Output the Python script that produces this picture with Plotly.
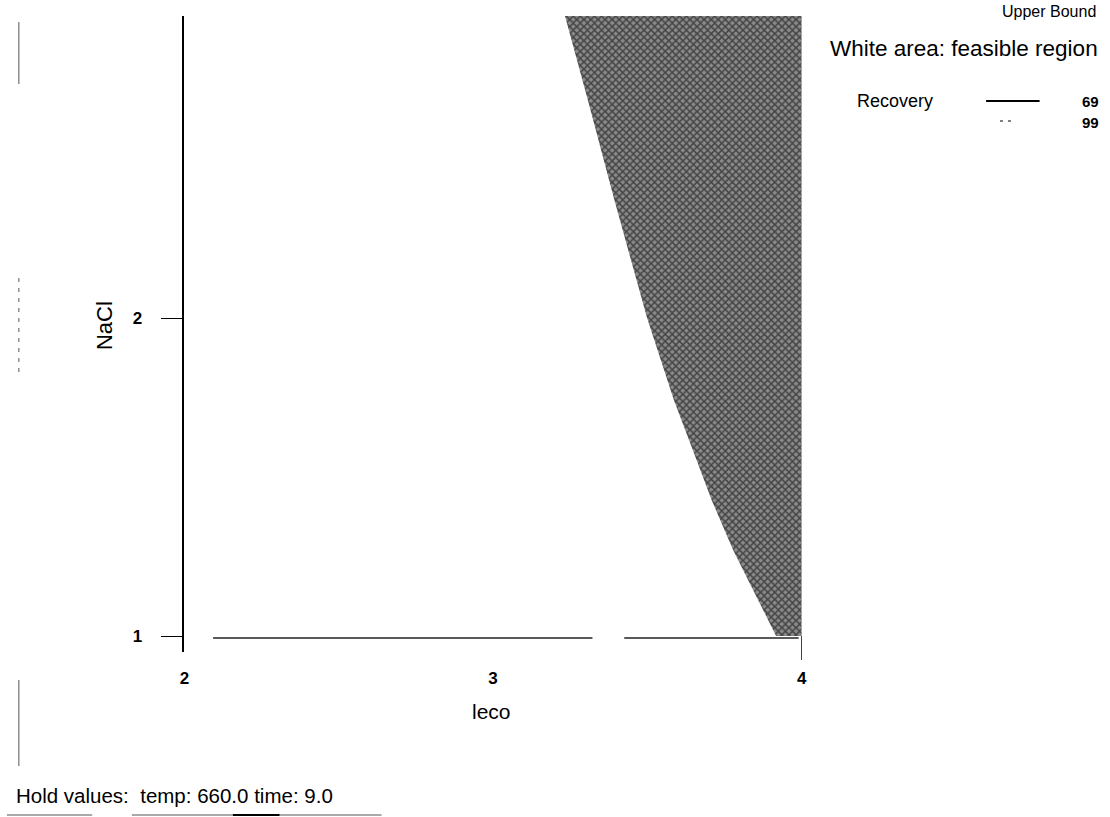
import plotly.graph_objects as go

# ---- data ----
# infeasible-region boundary (leco, NaCl)
bound_leco = [3.233, 3.307, 3.393, 3.499, 3.586, 3.647, 3.708, 3.778, 3.859, 3.917]
bound_nacl = [2.950, 2.686, 2.371, 2.000, 1.742, 1.585, 1.428, 1.270, 1.113, 1.000]
x_max = 4.0
# Recovery = 69 contour segments
rec69_leco = [2.093, 3.322, None, 3.425, 3.99]
rec69_nacl = [0.994, 0.994, None, 0.994, 0.994]
x_ticks = [2, 3, 4]
y_ticks = [1, 2]
legend_levels = ["69", "99"]

W, H = 1110, 817
FONT = "Liberation Sans, Arial, sans-serif"


def px(x):
    return x / W


def py(y):
    return 1 - y / H


fig = go.Figure()

poly_x = bound_leco + [x_max, x_max]
poly_y = bound_nacl + [bound_nacl[-1], bound_nacl[0]]
fig.add_trace(go.Scatter(
    x=poly_x, y=poly_y, mode="none", fill="toself",
    fillcolor="#777777",
    fillpattern=dict(shape="x", fgcolor="#000000", bgcolor="#8a8a8a", size=5, solidity=0.5),
    hoverinfo="skip", showlegend=False,
))
fig.add_trace(go.Scatter(
    x=rec69_leco, y=rec69_nacl, mode="lines",
    line=dict(color="#222222", width=1.6),
    showlegend=False, hoverinfo="skip",
))

tickfont = dict(size=17, family=FONT, color="black", weight="bold")
fig.update_layout(
    width=W, height=H,
    margin=dict(l=0, r=0, t=0, b=0),
    paper_bgcolor="white", plot_bgcolor="white",
    font=dict(family=FONT, color="black"),
    showlegend=False,
    xaxis=dict(
        domain=[181 / W, 804 / W], range=[2, 4],
        showgrid=False, zeroline=False, showline=False,
        tickvals=x_ticks, ticktext=[str(v) for v in x_ticks],
        ticks="", ticklabelstandoff=14,
        tickfont=tickfont,
    ),
    yaxis=dict(
        domain=[(H - 652) / H, (H - 16) / H], range=[0.95, 2.95],
        showgrid=False, zeroline=False,
        showline=True, linecolor="black", linewidth=1.6,
        tickvals=y_ticks, ticktext=[str(v) for v in y_ticks],
        ticks="outside", ticklen=22, tickwidth=1, tickcolor="black",
        ticklabelstandoff=15,
        tickfont=tickfont,
    ),
)

# tick at x = 4 below the axis
fig.add_shape(type="line", xref="x", yref="paper", x0=4, x1=4,
              y0=py(660), y1=py(636), line=dict(color="black", width=1.5))

ann = []
ann.append(dict(text="leco", x=px(491), y=py(711), xref="paper", yref="paper",
                showarrow=False, font=dict(size=21, family=FONT), xanchor="center", yanchor="middle"))
ann.append(dict(text="NaCl", x=px(100), y=py(326), xref="paper", yref="paper", textangle=-90,
                showarrow=False, font=dict(size=22, family=FONT), xanchor="center", yanchor="middle"))
ann.append(dict(text="Upper Bound", x=px(1103), y=py(11), xref="paper", yref="paper",
                showarrow=False, font=dict(size=16, family=FONT), xanchor="right", yanchor="middle"))
ann.append(dict(text="White area: feasible region", x=px(1105), y=py(48), xref="paper", yref="paper",
                showarrow=False, font=dict(size=22.5, family=FONT), xanchor="right", yanchor="middle"))
ann.append(dict(text="Recovery", x=px(858), y=py(101), xref="paper", yref="paper",
                showarrow=False, font=dict(size=18, family=FONT), xanchor="left", yanchor="middle"))
ann.append(dict(text=legend_levels[0], x=px(1106), y=py(102), xref="paper", yref="paper",
                showarrow=False, font=dict(size=15, family=FONT, weight="bold"), xanchor="right", yanchor="middle"))
ann.append(dict(text=legend_levels[1], x=px(1106), y=py(122), xref="paper", yref="paper",
                showarrow=False, font=dict(size=15, family=FONT, weight="bold"), xanchor="right", yanchor="middle"))
ann.append(dict(text="Hold values:\u00a0 temp: 660.0 time: 9.0", x=px(9), y=py(795), xref="paper", yref="paper",
                showarrow=False, font=dict(size=20.5, family=FONT), xanchor="left", yanchor="middle"))
fig.update_layout(annotations=ann)

# legend samples
fig.add_shape(type="line", xref="paper", yref="paper", x0=px(990), x1=px(1044),
              y0=py(101), y1=py(101), line=dict(color="black", width=2))
fig.add_shape(type="line", xref="paper", yref="paper", x0=px(1004), x1=px(1018),
              y0=py(121), y1=py(121), line=dict(color="black", width=1, dash="3px,5px"))

# scan artefacts along the edges
edge = dict(color="#555555", width=1)
for (a, b, d) in [(22, 84, "solid"), (278, 372, "4px,6px"), (680, 766, "solid")]:
    fig.add_shape(type="line", xref="paper", yref="paper", x0=px(14), x1=px(14),
                  y0=py(a), y1=py(b), line=dict(edge, dash=d))
for (a, b) in [(2, 88), (128, 380)]:
    fig.add_shape(type="line", xref="paper", yref="paper", x0=px(a), x1=px(b),
                  y0=py(815), y1=py(815), line=edge)
fig.add_shape(type="line", xref="paper", yref="paper", x0=px(230), x1=px(277),
              y0=py(815), y1=py(815), line=dict(color="black", width=2))

fig.write_html("out.html", config={"displayModeBar": False},
               post_script="document.body.style.margin='0';document.body.style.overflow='hidden';")
